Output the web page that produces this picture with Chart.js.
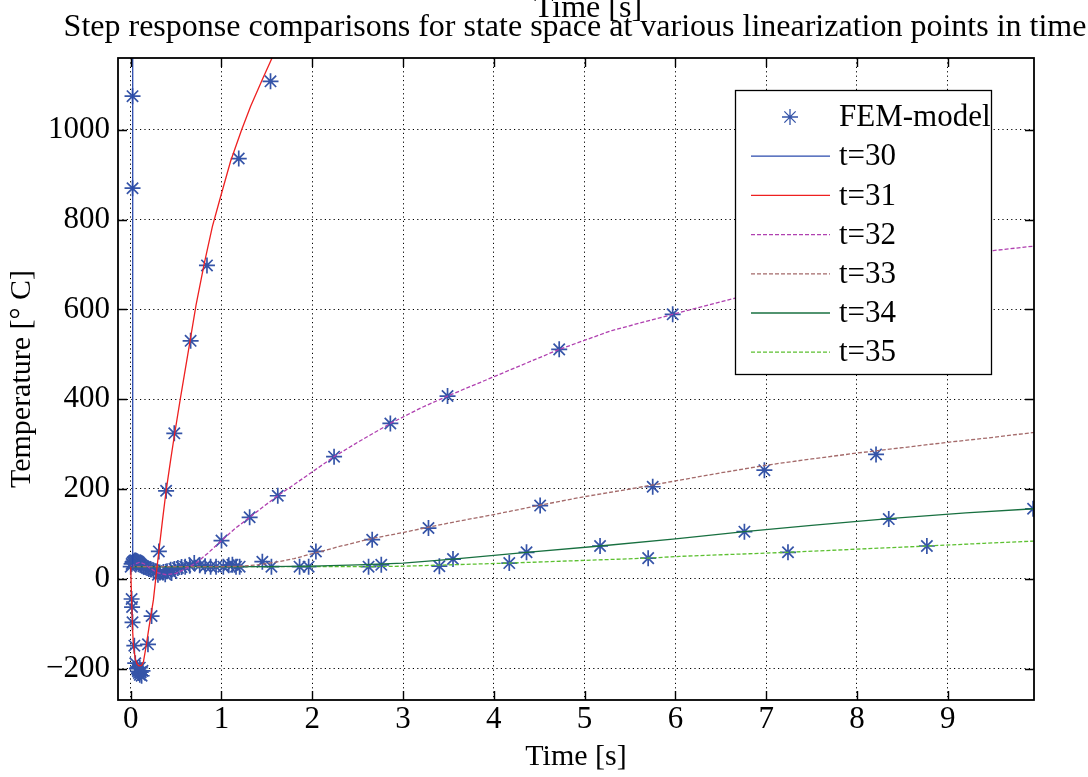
<!DOCTYPE html>
<html>
<head>
<meta charset="utf-8">
<script src="https://cdn.jsdelivr.net/npm/chart.js@4.4.0/dist/chart.umd.min.js"></script>
<style>
  html, body { margin:0; padding:0; background:#fff; }
  canvas { display:block; }
</style>
</head>
<body>
<canvas id="chart" width="1088" height="777"></canvas>
<script>
const titre  = 'Step response comparisons for state space at various linearization points in time';
const labelX = 'Time [s]';
const labelY = 'Temperature [° C]';

const xTicks = [0, 1, 2, 3, 4, 5, 6, 7, 8, 9];
const yTicks = [-200, 0, 200, 400, 600, 800, 1000];
const noms   = ['FEM-model', 't=30', 't=31', 't=32', 't=33', 't=34', 't=35'];

// points du modèle FEM
const femModel = [
  // amas initial
  [0,27],[0.01,33],[0.02,36],[0.03,38],[0.04,40],[0.05,41],[0.06,40],[0.07,39],[0.08,38],[0.09,36],
  [0.10,34],[0.11,32],[0.12,30],[0.14,28],[0.16,26],[0.18,24],[0.20,22],[0.22,21],[0.25,19],[0.28,16],
  [0.32,14],[0.36,15],[0.40,17],[0.44,20],[0.48,22],[0.52,24],[0.56,26],[0.60,27],[0.65,29],[0.70,35],
  [0.76,30],[0.82,28],[0.88,27],[0.94,27],[1.02,27],[1.08,30],[1.12,31],[1.16,27],[1.20,27],
  [0.30,9],[0.38,10],[0.45,13],
  // creux
  [0.01,-45],[0.015,-63],[0.02,-97],[0.04,-149],[0.05,-188],[0.07,-200],[0.08,-206],[0.09,-210],
  [0.10,-214],[0.11,-208],[0.12,-216],[0.13,-205],[0.10,-198],[0.19,-146],[0.23,-83],
  // t=30
  [0.02,870],[0.02,1075],
  // t=31
  [0.31,61],[0.39,196],[0.48,324],[0.66,530],[0.84,698],[1.19,936],[1.54,1108],
  // t=32
  [1.00,85],[1.31,137],[1.62,185],[2.24,272],[2.86,346],[3.49,407],[4.72,511],[5.97,589],
  // t=33
  [2.04,61],[2.66,87],[3.28,113],[4.51,163],[5.75,205],[6.98,242],[8.21,277],
  // t=34
  [2.76,31],[3.55,44],[4.36,59],[5.17,73],[6.76,105],[8.35,133],[9.94,156],
  // t=35
  [2.62,27],[3.40,28],[4.17,35],[5.70,46],[7.24,59],[8.77,73],
  // autres
  [1.45,38],[1.55,27],[1.86,27],[1.96,27]
];

const t30 = [[0,27],[0.015,27],[0.022,1300]];
const t31 = [
  [0,27],[0.01,-50],[0.02,-110],[0.03,-150],[0.05,-178],[0.07,-190],[0.09,-194],[0.12,-193],[0.14,-185],
  [0.17,-150],[0.20,-110],[0.22,-85],[0.25,-47],[0.28,8],[0.31,61],[0.35,130],[0.39,196],[0.44,265],
  [0.48,318],[0.55,405],[0.64,513],[0.72,610],[0.81,702],[0.90,785],[0.99,851],[1.10,930],[1.22,999],
  [1.32,1052],[1.45,1112],[1.57,1166],[1.65,1200]
];
const t32 = [
  [0,27],[0.05,33],[0.10,37],[0.15,33],[0.20,25],[0.30,13],[0.39,9],[0.50,12],[0.60,22],[0.72,35],
  [0.85,57],[1.00,85],[1.15,112],[1.31,137],[1.47,162],[1.62,185],[1.80,210],[2.00,238],[2.24,272],
  [2.50,304],[2.86,346],[3.20,381],[3.49,407],[4.00,450],[4.72,511],[5.30,553],[5.97,589],[6.50,617],
  [7.00,642],[7.50,664],[8.00,684],[8.50,702],[9.00,718],[9.50,731],[9.95,741]
];
const t33 = [
  [0,27],[1.00,27],[1.20,28],[1.40,31],[1.60,37],[1.80,45],[2.04,58],[2.30,72],[2.66,90],[3.00,103],
  [3.28,115],[3.60,128],[4.00,143],[4.51,164],[5.00,183],[5.50,200],[6.00,218],[6.50,236],[7.00,253],
  [7.50,267],[8.00,280],[8.50,292],[9.00,304],[9.50,315],[9.95,326]
];
const t34 = [
  [0,27],[1.50,27],[2.00,28],[2.50,31],[3.00,35],[3.55,44],[4.00,52],[4.36,59],[5.17,73],[6.00,89],
  [6.76,105],[7.50,119],[8.35,134],[9.20,147],[9.95,156]
];
const t35 = [
  [0,27],[2.50,27],[3.00,28],[3.50,31],[4.17,35],[5.00,41],[5.70,46],[6.05,50],[7.24,59],[8.00,66],
  [8.77,73],[9.40,79],[9.95,84]
];

const couleurs = ['#3554a8', '#2a4aad', '#ee2020', '#b040b0', '#a46a6a', '#187040', '#5cc030'];
const tirets   = [[], [], [], [4, 2], [4, 2], [], [4, 2]];
const police   = 'Liberation Serif';

const enPoints = (arr) => arr.map(([x, y]) => ({ x, y }));
const moins = (v) => v < 0 ? '\u2212' + Math.abs(v) : String(v);

const series = [t30, t31, t32, t33, t34, t35];

const datasets = [
  {
    label: noms[0], data: enPoints(femModel), showLine: false,
    pointStyle: 'star', pointRadius: 8, pointBorderWidth: 1.7,
    borderColor: couleurs[0], backgroundColor: couleurs[0], order: 1
  },
  ...series.map((s, i) => ({
    label: noms[i + 1], data: enPoints(s), showLine: true, pointRadius: 0,
    borderColor: couleurs[i + 1], borderWidth: 1.3, borderDash: tirets[i + 1], order: 0
  }))
];

// cadre, graduations intérieures, titre et légende
const habillage = {
  id: 'habillage',
  afterDatasetsDraw(chart) {
    const { ctx, chartArea: a, scales: { x, y } } = chart;
    ctx.save();
    ctx.strokeStyle = '#000';
    ctx.lineWidth = 1.8;
    ctx.strokeRect(a.left, a.top, a.right - a.left, a.bottom - a.top);
    ctx.lineWidth = 1.4;
    ctx.beginPath();
    yTicks.forEach(v => {
      const py = Math.round(y.getPixelForValue(v)) + 0.5;
      ctx.moveTo(a.left, py); ctx.lineTo(a.left + 9, py);
      ctx.moveTo(a.right, py); ctx.lineTo(a.right - 9, py);
    });
    xTicks.forEach(v => {
      const px = Math.round(x.getPixelForValue(v)) + 0.5;
      ctx.moveTo(px, a.bottom); ctx.lineTo(px, a.bottom - 9);
      ctx.moveTo(px, a.top); ctx.lineTo(px, a.top + 9);
    });
    ctx.stroke();

    // légende
    const lx = a.right - 299, ly = a.top + 32, lw = 256, lh = 284;
    ctx.fillStyle = '#fff';
    ctx.fillRect(lx, ly, lw, lh);
    ctx.strokeStyle = '#000';
    ctx.lineWidth = 1.3;
    ctx.strokeRect(lx + 0.5, ly + 0.5, lw, lh);
    ctx.font = '31px "' + police + '"';
    ctx.textBaseline = 'middle';
    ctx.textAlign = 'left';
    chart.data.datasets.forEach((ds, i) => {
      const yy = ly + 27 + i * 39.2;
      ctx.save();
      ctx.strokeStyle = ds.borderColor;
      if (ds.showLine) {
        ctx.lineWidth = 1.3;
        ctx.setLineDash(ds.borderDash || []);
        ctx.beginPath(); ctx.moveTo(lx + 16, yy); ctx.lineTo(lx + 95, yy); ctx.stroke();
      } else {
        Chart.helpers.drawPoint(ctx, { pointStyle: 'star', radius: 8, borderWidth: 1.5 }, lx + 55, yy);
      }
      ctx.restore();
      ctx.fillStyle = '#000';
      ctx.fillText(ds.label, lx + 104, yy + 1);
    });

    // titre (avec le libellé d'axe qui déborde en haut)
    ctx.textAlign = 'center';
    ctx.textBaseline = 'alphabetic';
    ctx.font = '32px "' + police + '"';
    ctx.fillText(labelX, 588, 17);
    ctx.fillText(titre, 575, 36);
    ctx.restore();
  }
};

new Chart(document.getElementById('chart'), {
  type: 'scatter',
  data: { datasets },
  plugins: [habillage],
  options: {
    responsive: false,
    animation: false,
    devicePixelRatio: 1,
    layout: { padding: { top: 58, right: 54, left: 0, bottom: 0 } },
    plugins: { legend: { display: false }, tooltip: { enabled: false } },
    scales: {
      x: {
        type: 'linear', min: -0.14, max: 9.95,
        afterFit: (s) => { s.height = 77; },
        afterBuildTicks: (s) => { s.ticks = xTicks.map(v => ({ value: v })); },
        grid: { color: '#000', lineWidth: 1, drawTicks: false },
        border: { display: false, dash: [1.2, 3.2] },
        ticks: { color: '#000', padding: 1, font: { family: police, size: 31 }, callback: moins, maxRotation: 0 },
        title: { display: true, text: labelX, color: '#000', font: { family: police, size: 30 }, padding: { top: 0, bottom: 2 } }
      },
      y: {
        type: 'linear', min: -270, max: 1160,
        afterFit: (s) => { s.width = 118; },
        afterBuildTicks: (s) => { s.ticks = yTicks.map(v => ({ value: v })); },
        grid: { color: '#000', lineWidth: 1, drawTicks: false },
        border: { display: false, dash: [1.2, 3.2] },
        ticks: { color: '#000', padding: 8, font: { family: police, size: 31 }, callback: moins },
        title: { display: true, text: labelY, color: '#000', font: { family: police, size: 30 }, padding: { top: 4, bottom: 0 } }
      }
    }
  }
});
</script>
</body>
</html>
